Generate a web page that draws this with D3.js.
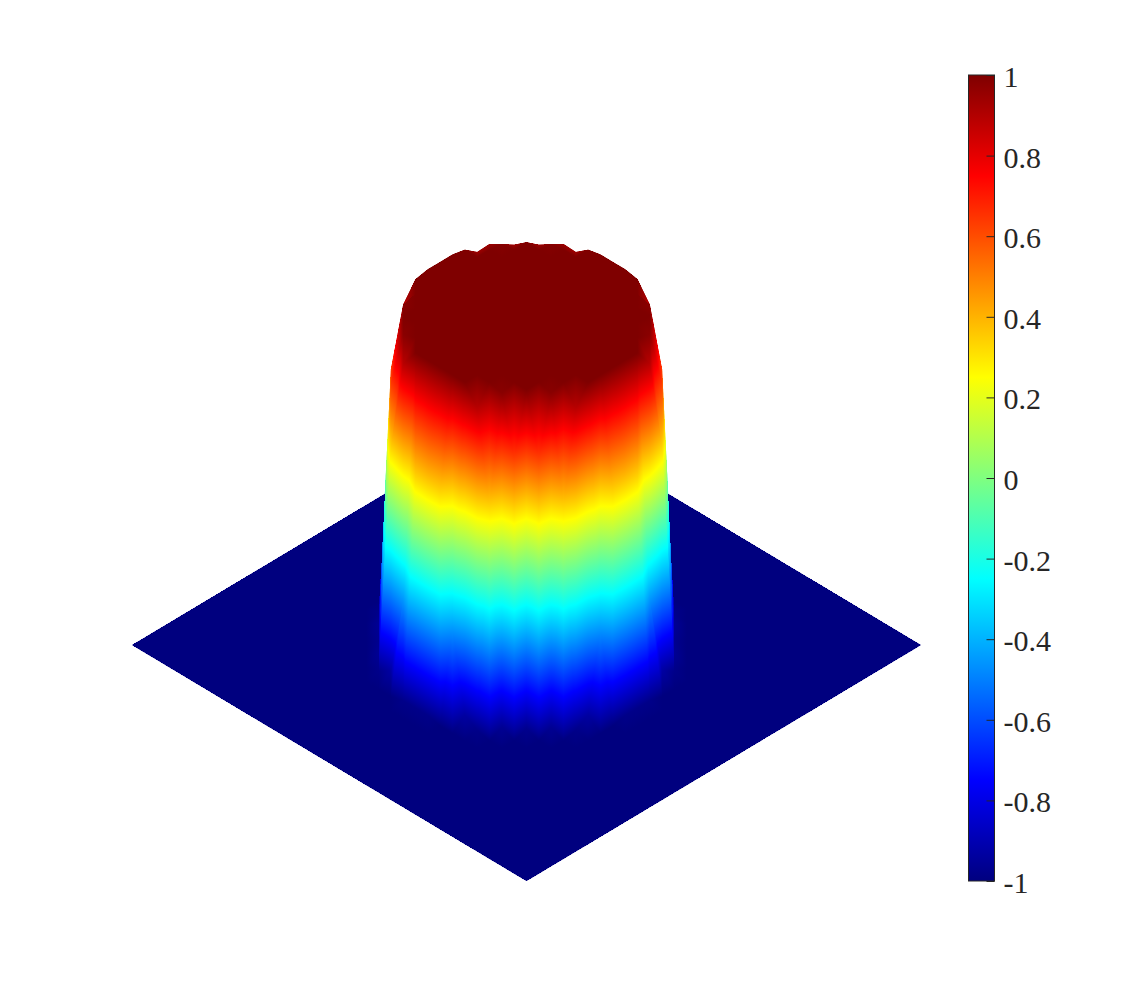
<!DOCTYPE html>
<html><head><meta charset="utf-8">
<script src="https://cdn.jsdelivr.net/npm/d3@7"></script>
<style>html,body{margin:0;background:#fff}svg{display:block}</style></head>
<body><svg id="c" width="1125" height="991"></svg>
<script>
// ---- data ----
const colorbarTicks = [1,0.8,0.6,0.4,0.2,0,-0.2,-0.4,-0.6,-0.8,-1];
const jetLevels = [-1,-0.75,-0.25,0.25,0.75,1];
const jetColors = ["#00007f","#0000ff","#00ffff","#ffff00","#ff0000","#7f0000"];
const gridHalf = 16;
// height of the surface by squared grid distance from the centre (front and sides)
const ringSquared = [52,58,61,64,65,68,72,73,74,80,81,82];
const ringHeight  = [0.98,0.89,0.63,0.4,0.33,-0.45,-0.97,-0.93,-0.96,-0.98,-0.98,-0.98];
const plateauLimit = 53;   // squared distance at or below which height = 1
// rear rim of the plateau: [gx, gy, height]
const rearRim = [[-7,-3,0.94],[-7,-4,0.945],[-6,-5,0.94],[-6,-4,0.988],[-3,-7,0.94],[-4,-7,0.945],[-5,-6,0.94],[-4,-6,0.988],
                 [-7,1,1.015],[-7,0,1.015],[-7,-1,1.015],[1,-7,1.015],[0,-7,1.015],[-1,-7,1.015]];

// ---- scales ----
const W=1125,H=991;
const uScale=d3.scaleLinear().domain([-2*gridHalf,2*gridHalf]).range([132,921]);
const vScale=d3.scaleLinear().domain([-2*gridHalf,2*gridHalf]).range([409,881]);
const zLift=d3.scaleLinear().domain([-1,1]).range([0,-329]);
const jet=d3.scaleLinear().domain(jetLevels).range(jetColors).clamp(true);
const barY=d3.scaleLinear().domain([-1,1]).range([881,75]);

const rearMap=new Map(rearRim.map(d=>[d[0]+","+d[1],d[2]]));
const ringMap=new Map(ringSquared.map((d,i)=>[d,ringHeight[i]]));
function height(gx,gy){
  const k=gx+","+gy; if(rearMap.has(k))return rearMap.get(k);
  const r2=gx*gx+gy*gy;
  if(ringMap.has(r2))return ringMap.get(r2);
  return r2<=plateauLimit?1:-1;
}
function vertex(gx,gy){const z=height(gx,gy);return {x:uScale(gx-gy),y:vScale(gx+gy)+zLift(z),z};}

const axis=d3.range(-gridHalf,gridHalf+1);
const tris=[];
axis.slice(0,-1).forEach(gx=>axis.slice(0,-1).forEach(gy=>{
  const a=vertex(gx,gy),b=vertex(gx+1,gy),c=vertex(gx+1,gy+1),d=vertex(gx,gy+1);
  tris.push({o:gx+gy,p:[a,b,c]},{o:gx+gy,p:[a,c,d]});
}));
tris.sort((m,n)=>m.o-n.o);

const svg=d3.select("#c");
svg.append("rect").attr("width",W).attr("height",H).attr("fill","#fff");
const defs=svg.append("defs");
const stops=jetLevels.map((l,i)=>({o:(l+1)/2,c:jetColors[i]}));
const base=defs.append("linearGradient").attr("id","jetBase").attr("gradientUnits","userSpaceOnUse");
base.selectAll("stop").data(stops).join("stop").attr("offset",d=>d.o).attr("stop-color",d=>d.c);

tris.forEach((t,i)=>{
  const [a,b,c]=t.p;
  const zs=[a.z,b.z,c.z];
  // triangles that sit wholly at or above the top level are plain dark red
  if(d3.max(zs)-d3.min(zs)<1e-6||d3.min(zs)>=1){t.fill=jet(a.z);return;}
  const det=(b.x-a.x)*(c.y-a.y)-(c.x-a.x)*(b.y-a.y);
  if(Math.abs(det)<1e-6){t.fill=jet(d3.mean(zs));return;}
  const gx=((b.z-a.z)*(c.y-a.y)-(c.z-a.z)*(b.y-a.y))/det;
  const gy=((c.z-a.z)*(b.x-a.x)-(b.z-a.z)*(c.x-a.x))/det;
  const n=gx*gx+gy*gy;
  const x1=a.x+gx/n*(-1-a.z),y1=a.y+gy/n*(-1-a.z),x2=a.x+gx/n*(1-a.z),y2=a.y+gy/n*(1-a.z);
  const id="g"+i;
  defs.append("linearGradient").attr("id",id).attr("href","#jetBase")
    .attr("gradientUnits","userSpaceOnUse").attr("x1",x1).attr("y1",y1).attr("x2",x2).attr("y2",y2);
  t.fill=`url(#${id})`;
});
const line=d3.line().x(d=>d.x).y(d=>d.y).curve(d3.curveLinearClosed);
// soft under-layer gives antialiased silhouettes, crisp layer on top keeps the interior seamless
svg.append("g").attr("class","surface-soft").selectAll("path").data(tris).join("path")
  .attr("d",d=>line(d.p)).attr("fill",d=>d.fill);
svg.append("g").attr("class","surface").attr("shape-rendering","crispEdges").selectAll("path").data(tris).join("path")
  .attr("d",d=>line(d.p)).attr("fill",d=>d.fill);

// ---- colourbar ----
const barLeft=968.5,barRight=994.5;
const vg=defs.append("linearGradient").attr("id","barGrad").attr("gradientUnits","userSpaceOnUse")
  .attr("x1",0).attr("x2",0).attr("y1",barY(-1)).attr("y2",barY(1));
vg.selectAll("stop").data(stops).join("stop").attr("offset",d=>d.o).attr("stop-color",d=>d.c);
const bar=svg.append("g");
bar.append("rect").attr("x",barLeft).attr("y",barY(1)).attr("width",barRight-barLeft).attr("height",barY(-1)-barY(1))
  .attr("fill","url(#barGrad)").attr("stroke","#262626").attr("stroke-width",1);
const axisG=bar.append("g").attr("transform",`translate(${barRight},0)`)
  .call(d3.axisRight(barY).tickValues(colorbarTicks).tickSize(-8).tickFormat(d=>d3.format("")(d)));
axisG.select(".domain").remove();
axisG.selectAll("line").attr("stroke","#262626").attr("stroke-width",1);
axisG.selectAll("text").attr("x",9).attr("y",11.5).attr("dy",null).attr("text-anchor","start")
  .attr("font-family","'Liberation Serif',serif").attr("font-size",30).attr("fill","#262626")
  .text(d=>d3.format("")(d).replace("−","-"));
</script></body></html>
